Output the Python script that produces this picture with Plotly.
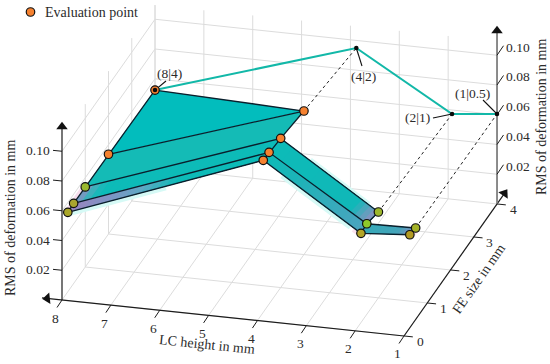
import plotly.graph_objects as go

# ---------- data ----------
LC_TICKS = [8, 7, 6, 5, 4, 3, 2, 1]
FE_TICKS = [0, 1, 2, 3, 4]
RMS_TICKS = [0.02, 0.04, 0.06, 0.08, 0.10]
RMS_TICK_LABELS = ["0.02", "0.04", "0.06", "0.08", "0.10"]

FE_ROW_LC8 = [4, 2, 1, 0.5, 0.25]
RMS_LC8 = [0.0524, 0.0536, 0.0538, 0.0539, 0.0534]
FE_ROW_LC4 = [2, 1, 0.5, 0.25]
RMS_LC4 = [0.0965, 0.1003, 0.1020, 0.1022]
FE_ROW_LC2 = [1, 0.5, 0.25]
RMS_LC2 = [0.0577, 0.0609, 0.0600]
FE_ROW_LC1 = [0.5, 0.25]
RMS_LC1 = [0.0615, 0.0625]

WALL_LC = [8, 3.88, 1.92, 1]
WALL_RMS = [0.0524, 0.0949, 0.0573, 0.0605]
WALL_LABELS = ["(8|4)", "(4|2)", "(2|1)", "(1|0.5)"]

MARKER_COLORS_LC8 = ["#f5812f", "#f5812f", "#9ab92f", "#aaa52f", "#a9a628"]
MARKER_COLORS_LC4 = ["#f5812f", "#f5812f", "#f5812f", "#f5812f"]
MARKER_COLORS_LC2 = ["#9db72c", "#8fca2a", "#b3a526"]
MARKER_COLORS_LC1 = ["#a4b228", "#b29a22"]

SERIF = "Liberation Serif"
TXT = "#2b2b2b"
GRID = "#dcdcdc"
EDGE = "#0a1f2c"


# ---------- oblique projection of the 3-D axes onto the page ----------
def P(lc, fe, z=0.0):
    return (62 + (8 - lc) * 48.86 + fe * 23.25,
            300 + (8 - lc) * 5.14 - fe * 33 - z / 0.02 * 29.75)


surface = {}
for lc, fes, vals in [(8, FE_ROW_LC8, RMS_LC8), (4, FE_ROW_LC4, RMS_LC4),
                      (2, FE_ROW_LC2, RMS_LC2), (1, FE_ROW_LC1, RMS_LC1)]:
    for fe, v in zip(fes, vals):
        surface[(lc, fe)] = P(lc, fe, v)

fig = go.Figure()


def line(p, q, color=GRID, width=1, dash=None):
    fig.add_trace(go.Scatter(x=[p[0], q[0]], y=[p[1], q[1]], mode="lines",
                             line=dict(color=color, width=width, dash=dash),
                             hoverinfo="skip", showlegend=False))


def poly(pts, color):
    xs = [p[0] for p in pts] + [pts[0][0]]
    ys = [p[1] for p in pts] + [pts[0][1]]
    fig.add_trace(go.Scatter(x=xs, y=ys, mode="lines", fill="toself", fillcolor=color,
                             line=dict(width=0),
                             hoverinfo="skip", showlegend=False))


def mix(c1, c2, t):
    a = [int(c1[i:i + 2], 16) for i in (1, 3, 5)]
    b = [int(c2[i:i + 2], 16) for i in (1, 3, 5)]
    return "#%02x%02x%02x" % tuple(round(u + (v - u) * t) for u, v in zip(a, b))


def ramp(stops, t):
    for (t0, c0), (t1, c1) in zip(stops, stops[1:]):
        if t <= t1:
            return mix(c0, c1, (t - t0) / (t1 - t0))
    return stops[-1][1]


def strip(lc_a, lc_b, fe_a, fe_b, stops, n=16):
    """Shaded band: each piece reaches the far end, so later pieces overpaint without seams."""
    a1, b1 = surface[(lc_a, fe_a)], surface[(lc_b, fe_a)]
    a2, b2 = surface[(lc_a, fe_b)], surface[(lc_b, fe_b)]
    lerp = lambda p, q, t: (p[0] + (q[0] - p[0]) * t, p[1] + (q[1] - p[1]) * t)
    for i in range(n):
        t0, t1 = i / n, (i + 1) / n
        poly([lerp(a1, b1, t0), b1, b2, lerp(a2, b2, t0)], ramp(stops, (t0 + t1) / 2))


# ---------- grids ----------
Z_TOP = 0.1095
for lc in LC_TICKS:
    line(P(lc, 0), P(lc, 4))
for fe in FE_TICKS:
    line(P(8, fe), P(1, fe))
for z in RMS_TICKS:
    line(P(8, 0, z), P(8, 4, z))
    line(P(8, 4, z), P(1, 4, z))
for fe in FE_TICKS[1:]:
    line(P(8, fe), P(8, fe, Z_TOP))
for lc in LC_TICKS[:-1]:
    line(P(lc, 4), P(lc, 4, Z_TOP))

# ---------- pale halo under the lower edges ----------
HALO = "#d6faf6"
lerp2 = lambda p, q, t: (p[0] + (q[0] - p[0]) * t, p[1] + (q[1] - p[1]) * t)
low_l, low_r = surface[(8, 0.25)], surface[(4, 0.25)]
line(lerp2(low_l, low_r, 0.0), lerp2(low_l, low_r, 0.5), HALO, 8)
low_a, low_b = surface[(4, 0.25)], surface[(2, 0.25)]
line(lerp2(low_a, low_b, 0.2), lerp2(low_a, low_b, 0.9), HALO, 8)
up_a, up_b = surface[(4, 1)], surface[(2, 1)]
line(lerp2(up_a, up_b, 0.3), lerp2(up_a, up_b, 0.9), HALO, 6)
line(surface[(1, 0.5)], surface[(1, 0.25)], "#fbe3ee", 9)
line(lerp2(low_a, low_b, 0.93), lerp2(low_a, low_b, 1.0), "#fbe3ee", 8)
line(surface[(8, 0.25)], surface[(8, 1)], "#f6dcec", 7)

# ---------- dotted projections and wall curve ----------
for src, i in [((4, 2), 1), ((2, 1), 2), ((1, 0.5), 3)]:
    line(surface[src], P(WALL_LC[i], 4, WALL_RMS[i]), "#222222", 1, "dot")

wall = [P(l, 4, r) for l, r in zip(WALL_LC, WALL_RMS)]
fig.add_trace(go.Scatter(x=[p[0] for p in wall], y=[p[1] for p in wall], mode="lines",
                         line=dict(color="#12b8a8", width=2.1),
                         hoverinfo="skip", showlegend=False))

# ---------- surface ----------
TEAL = "#02bdbd"
BAND = "#0dbbb8"
poly([surface[(8, 4)], surface[(4, 2)], surface[(8, 2)]], TEAL)
strip(8, 4, 2, 1, [(0, "#14bbb6"), (1, "#14bbb6")], n=1)
strip(8, 4, 1, 0.5, [(0, "#8d8fc2"), (0.06, "#3fb0bb"), (0.12, BAND), (1, BAND)], n=24)
strip(8, 4, 0.5, 0.25, [(0, "#9a86c0"), (0.2, "#7f94c4"), (0.36, "#5fa8c4"), (0.55, BAND), (1, BAND)], n=24)
strip(4, 2, 1, 0.5, [(0, BAND), (0.82, "#10b8b8"), (0.92, "#5aa2bd"), (1, "#8a90c2")], n=24)
strip(4, 2, 0.5, 0.25, [(0, BAND), (0.3, "#1cb4b8"), (0.8, "#3fa8bd"), (1, "#4ca4be")], n=16)
strip(2, 1, 0.5, 0.25, [(0, "#34a9b8"), (0.7, "#44a5ba"), (1, "#7f8fc0")], n=12)

# surface edges
chains = [[(8, 4), (4, 2), (4, 1), (4, 0.5), (4, 0.25)],
          [(8, 4), (8, 2), (8, 1), (8, 0.5), (8, 0.25)],
          [(8, 2), (4, 2)], [(8, 1), (4, 1), (2, 1)],
          [(8, 0.5), (4, 0.5), (2, 0.5), (1, 0.5)],
          [(8, 0.25), (4, 0.25), (2, 0.25), (1, 0.25)],
          [(2, 1), (2, 0.5), (2, 0.25)], [(1, 0.5), (1, 0.25)]]
for ch in chains:
    fig.add_trace(go.Scatter(x=[surface[k][0] for k in ch], y=[surface[k][1] for k in ch],
                             mode="lines", line=dict(color=EDGE, width=1.3),
                             hoverinfo="skip", showlegend=False))

# ---------- axes ----------
BLACK = "#1c1c1c"
line(P(1, 0), P(8.41, 0), BLACK, 1.2)
line(P(1, 0), P(1, 4.42), BLACK, 1.2)
line(P(8, 0), P(8, 0, 0.115), BLACK, 1.2)
line(P(1, 4), P(1, 4, 0.115), "#7f7f7f", 1.8)


def arrow(p, angle):
    fig.add_trace(go.Scatter(x=[p[0]], y=[p[1]], mode="markers",
                             marker=dict(symbol="triangle-up", size=10, angle=angle,
                                         color="#111111", line=dict(width=0)),
                             hoverinfo="skip", showlegend=False))


arrow(P(8, 0, 0.1165), 0)
arrow(P(1, 4, 0.1165), 0)
arrow(P(8.3, 0), -96)
arrow(P(1, 4.32), 35)

annotations = []


def text(x, y, s, size=13.5, angle=0, color=TXT):
    annotations.append(dict(x=x, y=y, xref="x", yref="y", text=s, showarrow=False,
                            textangle=angle, xanchor="center", yanchor="middle",
                            font=dict(family=SERIF, size=size, color=color)))


for z, lab in zip(RMS_TICKS, RMS_TICK_LABELS):
    a = P(8, 0, z)
    line(a, (a[0] - 9, a[1] - 0.9), BLACK, 1)
    text(a[0] - 24.5, a[1] - 0.5, lab)
    b = P(1, 4, z)
    line(b, (b[0] + 6.5, b[1] - 9.5), BLACK, 1)
    text(b[0] + 20.5, b[1] - 8, lab)
for lc in LC_TICKS:
    a = P(lc, 0)
    line(a, (a[0] - 5, a[1] + 7.5), BLACK, 1)
    text(a[0] - 6.2, a[1] + 18, str(lc))
for fe in FE_TICKS:
    a = P(1, fe)
    line(a, (a[0] + 8.8, a[1] + 0.9), BLACK, 1)
    text(a[0] + 16, a[1] + 5.3, str(fe))

text(10, 218, "RMS of deformation in mm", 14, -90)
text(541, 117, "RMS of deformation in mm", 14, -90)
text(207, 344, "LC height in mm", 14, 6)
text(478, 279, "FE size in mm", 14, -55)

# ---------- wall labels with leaders ----------
LABEL_POS = [(169, 73), (363.5, 76), (417, 117), (472, 93)]
LEADER_END = [(166, 81), (362, 66), (433, 118), (483, 100)]
for p, lab, tp, le in zip(wall, WALL_LABELS, LABEL_POS, LEADER_END):
    line(p, le, "#111111", 1.1)
    text(tp[0], tp[1], lab)

# ---------- markers ----------
for lc, fes, cols in [(8, FE_ROW_LC8, MARKER_COLORS_LC8), (4, FE_ROW_LC4, MARKER_COLORS_LC4),
                      (2, FE_ROW_LC2, MARKER_COLORS_LC2), (1, FE_ROW_LC1, MARKER_COLORS_LC1)]:
    pts = [surface[(lc, f)] for f in fes]
    fig.add_trace(go.Scatter(x=[p[0] for p in pts], y=[p[1] for p in pts], mode="markers",
                             marker=dict(size=8.5, color=cols, line=dict(color="#111111", width=1.2)),
                             hoverinfo="skip", showlegend=False))

fig.add_trace(go.Scatter(x=[p[0] for p in wall], y=[p[1] for p in wall], mode="markers",
                         marker=dict(size=4.5, color="#0a0a0a"),
                         hoverinfo="skip", showlegend=False))

# legend entry, placed by hand
fig.add_trace(go.Scatter(x=[30.5], y=[12], mode="markers",
                         marker=dict(size=8.5, color="#f5812f", line=dict(color="#111111", width=1.2)),
                         hoverinfo="skip", showlegend=False))
text(91, 12, "Evaluation point", 14)

fig.update_layout(
    width=550, height=364, margin=dict(l=0, r=0, t=0, b=0),
    paper_bgcolor="white", plot_bgcolor="white", showlegend=False,
    xaxis=dict(range=[0, 550], visible=False, fixedrange=True),
    yaxis=dict(range=[364, 0], visible=False, fixedrange=True),
    annotations=annotations,
)
fig.write_html("out.html", config={"displayModeBar": False},
               post_script="document.body.style.margin='0';document.body.style.overflow='hidden';")
